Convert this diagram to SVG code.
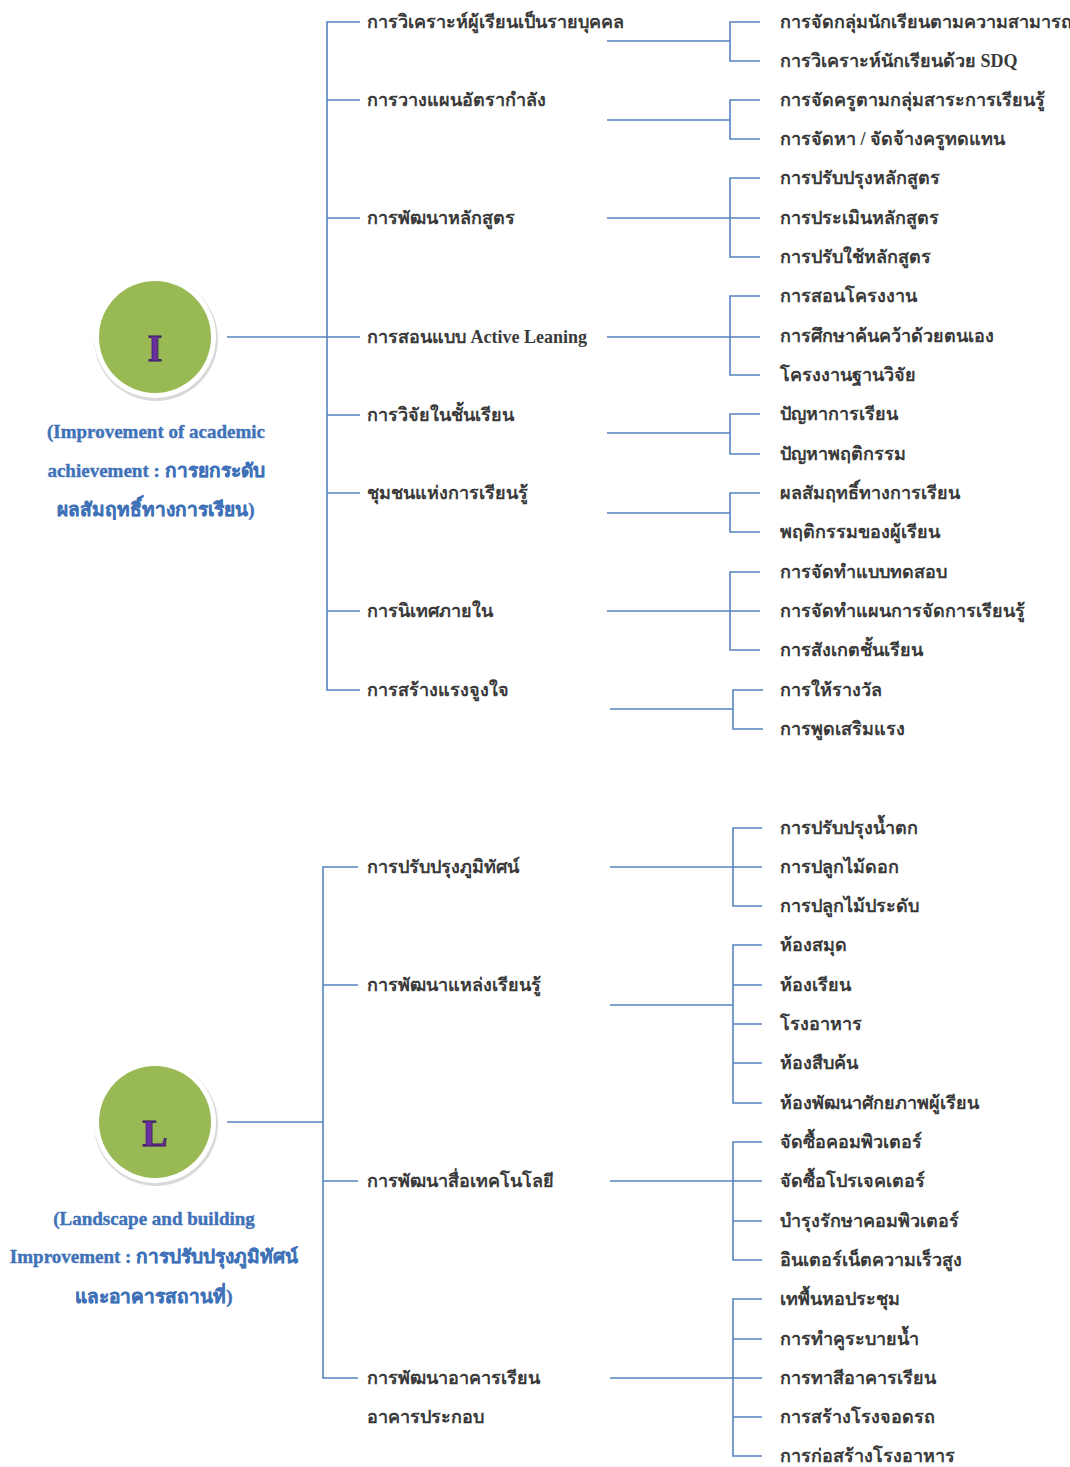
<svg xmlns="http://www.w3.org/2000/svg" width="1070" height="1467" viewBox="0 0 1070 1467">
<style>
.t{font-family:"Liberation Serif","Noto Sans",serif;font-size:18px;fill:#3a3a3a;font-weight:bold}
.cap{font-family:"Liberation Serif","Noto Sans",serif;font-size:19px;fill:#3f72b8;font-weight:bold;text-anchor:middle;stroke:#3f72b8;stroke-width:0.4}
.ln{stroke:#5583c0;stroke-width:1.6;fill:none}
.letter{font-family:"Liberation Serif",serif;font-size:38px;font-weight:bold;fill:#6b2fa0;stroke:#3a1860;stroke-width:0.8;text-anchor:middle}
</style>
<rect width="1070" height="1467" fill="#ffffff"/>
<g id="connectors" class="ln">
<path d="M227 337H327"/>
<path d="M360 22H327V690H360"/>
<path d="M327 100H360M327 218H360M327 337H360M327 415H360M327 493H360M327 611H360"/>
<path d="M607 41H730M760 22H730V61H760"/>
<path d="M607 120H730M760 100H730V139H760"/>
<path d="M607 218H760M760 178H730V257H760"/>
<path d="M607 337H760M760 296H730V375H760"/>
<path d="M607 433H730M760 414H730V454H760"/>
<path d="M607 513H730M760 493H730V532H760"/>
<path d="M607 611H760M760 572H730V650H760"/>
<path d="M610 709H733M763 690H733V729H763"/>
<path d="M227 1122H323"/>
<path d="M358 867H323V1378H358"/>
<path d="M323 985H358M323 1181H358"/>
<path d="M610 867H762M762 828H733V906H762"/>
<path d="M610 1005H733M762 945H733V1103H762M733 985H762M733 1024H762M733 1063H762"/>
<path d="M610 1181H762M762 1142H733V1260H762M733 1221H762"/>
<path d="M610 1378H762M762 1299H733V1456H762M733 1339H762M733 1417H762"/>
</g>
<g id="node-I">
<circle cx="156" cy="339" r="62" fill="#d9d9d9"/>
<circle cx="155" cy="337" r="61" fill="#ffffff"/>
<circle cx="155" cy="337" r="56" fill="#99b955"/>
<text class="letter" x="155" y="361">I</text>
<text class="cap" x="156" y="438">(Improvement of academic</text>
<text class="cap" x="156" y="477">achievement : การยกระดับ</text>
<text class="cap" x="156" y="516">ผลสัมฤทธิ์ทางการเรียน)</text>
</g>
<g id="node-L">
<circle cx="156" cy="1124" r="62" fill="#d9d9d9"/>
<circle cx="155" cy="1122" r="61" fill="#ffffff"/>
<circle cx="155" cy="1122" r="56" fill="#99b955"/>
<text class="letter" x="155" y="1146">L</text>
<text class="cap" x="154" y="1225">(Landscape and building</text>
<text class="cap" x="154" y="1263">Improvement : การปรับปรุงภูมิทัศน์</text>
<text class="cap" x="154" y="1303">และอาคารสถานที่)</text>
</g>
<g id="level1-I">
<text class="t" x="367" y="28">การวิเคราะห์ผู้เรียนเป็นรายบุคคล</text>
<text class="t" x="367" y="106">การวางแผนอัตรากำลัง</text>
<text class="t" x="367" y="224">การพัฒนาหลักสูตร</text>
<text class="t" x="367" y="343">การสอนแบบ Active Leaning</text>
<text class="t" x="367" y="421">การวิจัยในชั้นเรียน</text>
<text class="t" x="367" y="499">ชุมชนแห่งการเรียนรู้</text>
<text class="t" x="367" y="617">การนิเทศภายใน</text>
<text class="t" x="367" y="696">การสร้างแรงจูงใจ</text>
</g>
<g id="level2-I">
<text class="t" x="780" y="28">การจัดกลุ่มนักเรียนตามความสามารถ</text>
<text class="t" x="780" y="67">การวิเคราะห์นักเรียนด้วย SDQ</text>
<text class="t" x="780" y="106">การจัดครูตามกลุ่มสาระการเรียนรู้</text>
<text class="t" x="780" y="145">การจัดหา / จัดจ้างครูทดแทน</text>
<text class="t" x="780" y="184">การปรับปรุงหลักสูตร</text>
<text class="t" x="780" y="224">การประเมินหลักสูตร</text>
<text class="t" x="780" y="263">การปรับใช้หลักสูตร</text>
<text class="t" x="780" y="302">การสอนโครงงาน</text>
<text class="t" x="780" y="342">การศึกษาค้นคว้าด้วยตนเอง</text>
<text class="t" x="780" y="381">โครงงานฐานวิจัย</text>
<text class="t" x="780" y="420">ปัญหาการเรียน</text>
<text class="t" x="780" y="460">ปัญหาพฤติกรรม</text>
<text class="t" x="780" y="499">ผลสัมฤทธิ์ทางการเรียน</text>
<text class="t" x="780" y="538">พฤติกรรมของผู้เรียน</text>
<text class="t" x="780" y="578">การจัดทำแบบทดสอบ</text>
<text class="t" x="780" y="617">การจัดทำแผนการจัดการเรียนรู้</text>
<text class="t" x="780" y="656">การสังเกตชั้นเรียน</text>
<text class="t" x="780" y="696">การให้รางวัล</text>
<text class="t" x="780" y="735">การพูดเสริมแรง</text>
</g>
<g id="level1-L">
<text class="t" x="367" y="873">การปรับปรุงภูมิทัศน์</text>
<text class="t" x="367" y="991">การพัฒนาแหล่งเรียนรู้</text>
<text class="t" x="367" y="1187">การพัฒนาสื่อเทคโนโลยี</text>
<text class="t" x="367" y="1384">การพัฒนาอาคารเรียน</text>
<text class="t" x="367" y="1423">อาคารประกอบ</text>
</g>
<g id="level2-L">
<text class="t" x="780" y="834">การปรับปรุงน้ำตก</text>
<text class="t" x="780" y="873">การปลูกไม้ดอก</text>
<text class="t" x="780" y="912">การปลูกไม้ประดับ</text>
<text class="t" x="780" y="951">ห้องสมุด</text>
<text class="t" x="780" y="991">ห้องเรียน</text>
<text class="t" x="780" y="1030">โรงอาหาร</text>
<text class="t" x="780" y="1069">ห้องสืบค้น</text>
<text class="t" x="780" y="1109">ห้องพัฒนาศักยภาพผู้เรียน</text>
<text class="t" x="780" y="1148">จัดซื้อคอมพิวเตอร์</text>
<text class="t" x="780" y="1187">จัดซื้อโปรเจคเตอร์</text>
<text class="t" x="780" y="1227">บำรุงรักษาคอมพิวเตอร์</text>
<text class="t" x="780" y="1266">อินเตอร์เน็ตความเร็วสูง</text>
<text class="t" x="780" y="1305">เทพื้นหอประชุม</text>
<text class="t" x="780" y="1345">การทำคูระบายน้ำ</text>
<text class="t" x="780" y="1384">การทาสีอาคารเรียน</text>
<text class="t" x="780" y="1423">การสร้างโรงจอดรถ</text>
<text class="t" x="780" y="1462">การก่อสร้างโรงอาหาร</text>
</g>
</svg>
